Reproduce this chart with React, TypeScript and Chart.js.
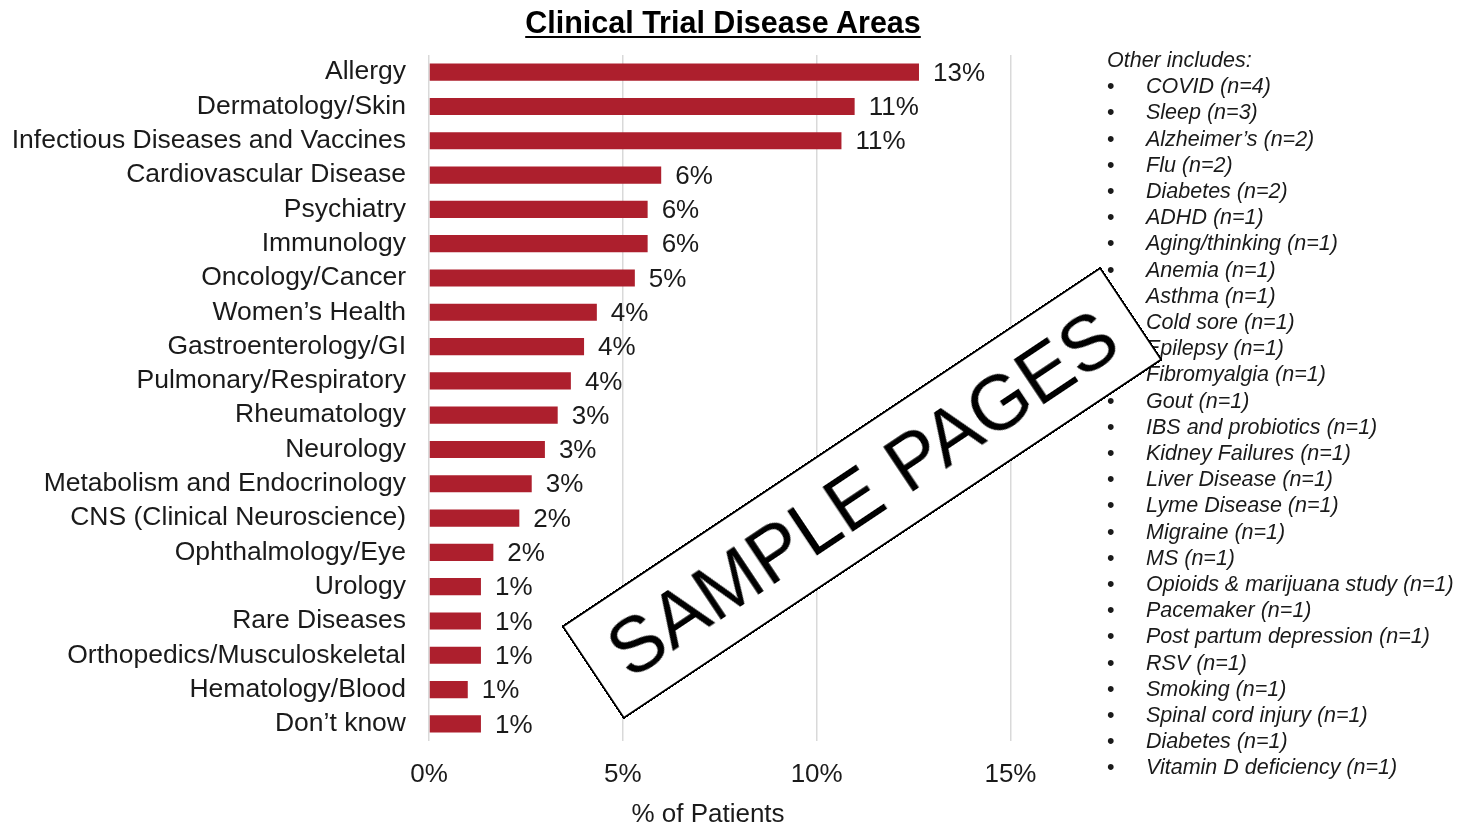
import React, { useEffect, useRef } from "react";
import { Chart, registerables } from "chart.js";

Chart.register(...registerables);

const categories = [
  "Allergy",
  "Dermatology/Skin",
  "Infectious Diseases and Vaccines",
  "Cardiovascular Disease",
  "Psychiatry",
  "Immunology",
  "Oncology/Cancer",
  "Women\u2019s Health",
  "Gastroenterology/GI",
  "Pulmonary/Respiratory",
  "Rheumatology",
  "Neurology",
  "Metabolism and Endocrinology",
  "CNS (Clinical Neuroscience)",
  "Ophthalmology/Eye",
  "Urology",
  "Rare Diseases",
  "Orthopedics/Musculoskeletal",
  "Hematology/Blood",
  "Don\u2019t know",
];

const values = [
  12.64, 10.98, 10.64, 5.99, 5.64, 5.64, 5.31, 4.33, 4.0, 3.66, 3.32, 2.99,
  2.65, 2.33, 1.66, 1.34, 1.34, 1.34, 1.0, 1.34,
];

const xTicks = [0, 5, 10, 15];

const otherTitle = "Other includes:";
const otherItems = [
  "COVID (n=4)",
  "Sleep (n=3)",
  "Alzheimer\u2019s (n=2)",
  "Flu (n=2)",
  "Diabetes (n=2)",
  "ADHD (n=1)",
  "Aging/thinking (n=1)",
  "Anemia (n=1)",
  "Asthma (n=1)",
  "Cold sore (n=1)",
  "Epilepsy (n=1)",
  "Fibromyalgia (n=1)",
  "Gout (n=1)",
  "IBS and probiotics (n=1)",
  "Kidney Failures (n=1)",
  "Liver Disease (n=1)",
  "Lyme Disease (n=1)",
  "Migraine (n=1)",
  "MS (n=1)",
  "Opioids & marijuana study (n=1)",
  "Pacemaker (n=1)",
  "Post partum depression (n=1)",
  "RSV (n=1)",
  "Smoking (n=1)",
  "Spinal cord injury (n=1)",
  "Diabetes (n=1)",
  "Vitamin D deficiency (n=1)",
];

const FONT = '"Liberation Sans", Arial, Helvetica, sans-serif';
const TEXT = "#1a1a1a";
const BAR = "#AD1F2D";

export default function App() {
  const canvasRef = useRef<HTMLCanvasElement | null>(null);

  useEffect(() => {
    document.body.style.margin = "0";
    const canvas = canvasRef.current;
    if (!canvas) return;

    const valueLabels = {
      id: "valueLabels",
      afterDatasetsDraw(chart: any) {
        const ctx = chart.ctx;
        const meta = chart.getDatasetMeta(0);
        ctx.save();
        ctx.font = `26px ${FONT}`;
        ctx.fillStyle = TEXT;
        ctx.textAlign = "left";
        ctx.textBaseline = "middle";
        meta.data.forEach((bar: any, i: number) => {
          ctx.fillText(Math.round(values[i]) + "%", bar.x + 14, bar.y + 1.5);
        });
        ctx.restore();
      },
    };

    const chart = new Chart(canvas, {
      type: "bar",
      data: {
        labels: categories,
        datasets: [
          {
            data: values,
            backgroundColor: BAR,
            borderWidth: 0,
            barPercentage: 0.5,
            categoryPercentage: 1,
          },
        ],
      },
      options: {
        indexAxis: "y",
        animation: false,
        responsive: false,
        maintainAspectRatio: false,
        layout: { padding: { left: 0, top: 55, right: 376, bottom: 0 } },
        plugins: {
          legend: { display: false },
          tooltip: { enabled: false },
          title: { display: false },
        },
        scales: {
          x: {
            type: "linear",
            min: 0,
            max: 17,
            afterBuildTicks: (scale: any) => {
              scale.ticks = xTicks.map((v) => ({ value: v }));
            },
            afterFit: (scale: any) => {
              scale.height = 86;
            },
            ticks: {
              callback: (v: any) => v + "%",
              font: { size: 26, family: FONT },
              color: TEXT,
              padding: 18,
            },
            grid: {
              color: "#d9d9d9",
              lineWidth: 1.5,
              drawTicks: false,
            },
            border: { display: false },
          },
          y: {
            type: "category",
            afterFit: (scale: any) => {
              scale.width = 429;
            },
            ticks: {
              font: { size: 26.5, family: FONT },
              color: TEXT,
              padding: 23,
              autoSkip: false,
            },
            grid: { display: false, drawTicks: false },
            border: { display: false },
          },
        },
      },
      plugins: [valueLabels],
    } as any);

    return () => chart.destroy();
  }, []);

  return (
    <div
      style={{
        position: "relative",
        width: 1464,
        height: 827,
        overflow: "hidden",
        background: "#fff",
        fontFamily: FONT,
      }}
    >
      <canvas
        ref={canvasRef}
        width={1464}
        height={827}
        style={{ position: "absolute", left: 0, top: 0, width: 1464, height: 827 }}
      />
      <div
        style={{
          position: "absolute",
          left: 423,
          width: 600,
          top: 4,
          textAlign: "center",
          fontSize: 30.5,
          fontWeight: "bold",
          textDecoration: "underline",
          textDecorationThickness: 2,
          textUnderlineOffset: 3,
          color: "#000",
          lineHeight: "36px",
        }}
      >
        Clinical Trial Disease Areas
      </div>
      <div
        style={{
          position: "absolute",
          left: 508,
          width: 400,
          top: 797,
          textAlign: "center",
          fontSize: 26,
          color: TEXT,
          lineHeight: "32px",
        }}
      >
        % of Patients
      </div>
      <div
        style={{
          position: "absolute",
          left: 1107,
          top: 47,
          fontSize: 21.5,
          fontStyle: "italic",
          color: TEXT,
          lineHeight: "26.2px",
          whiteSpace: "nowrap",
        }}
      >
        <div>{otherTitle}</div>
        {otherItems.map((t, i) => (
          <div key={i} style={{ display: "flex" }}>
            <span style={{ width: 39, fontStyle: "normal" }}>{"\u2022"}</span>
            <span>{t}</span>
          </div>
        ))}
      </div>
      <div
        style={{
          position: "absolute",
          left: 861.5 - 324,
          top: 492.5 - 56,
          width: 648,
          height: 112,
          boxSizing: "border-box",
          border: "2px solid #000",
          background: "#fff",
          transform: "rotate(-33.7deg)",
          transformOrigin: "50% 50%",
          textAlign: "center",
          fontSize: 77,
          lineHeight: "108px",
          color: "#000",
          whiteSpace: "nowrap",
        }}
      >
        SAMPLE PAGES
      </div>
    </div>
  );
}
